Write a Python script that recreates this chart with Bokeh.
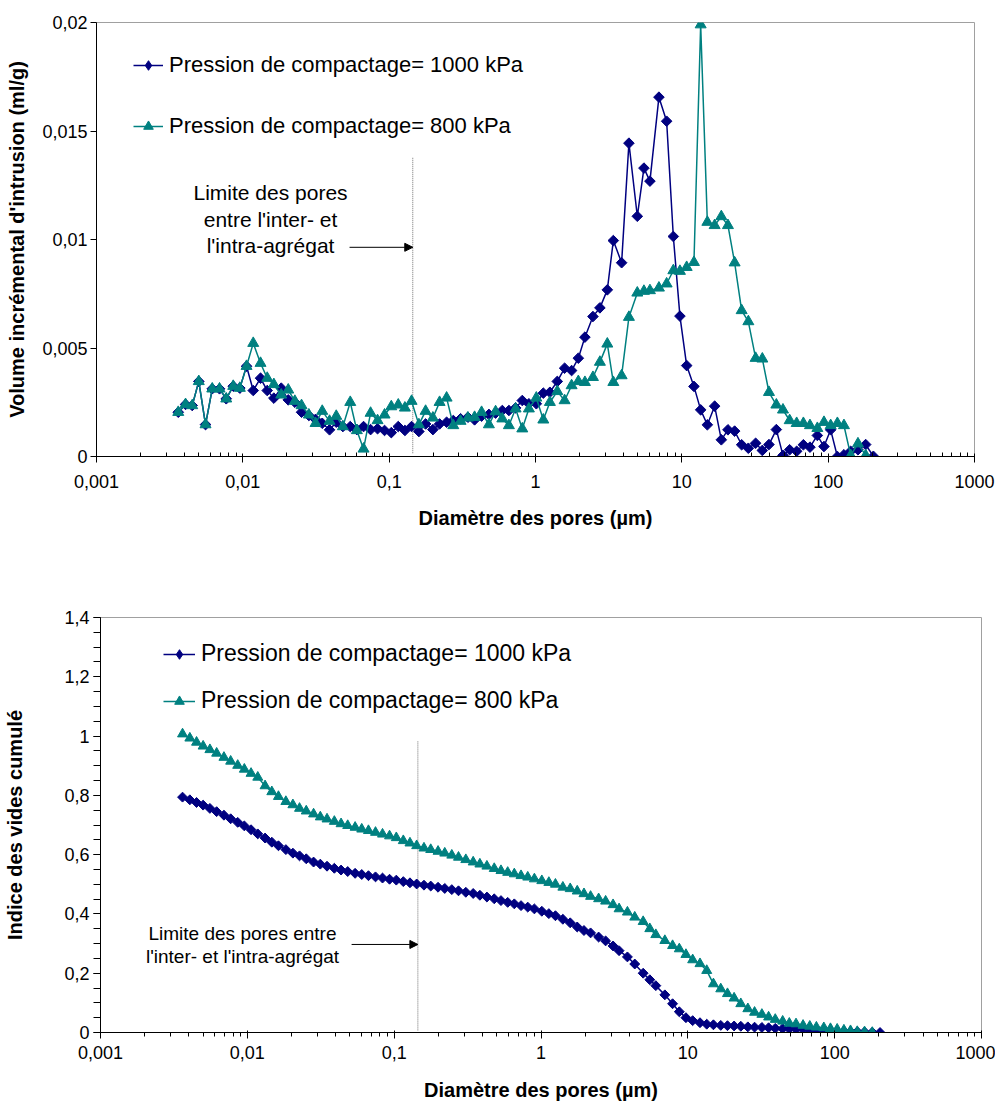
from bokeh.plotting import figure
from bokeh.models import (Range1d, FixedTicker, CustomJSTickFormatter, Legend, LegendItem,
                          Arrow, NormalHead)
from bokeh.core.properties import value
from bokeh.embed import file_html
from bokeh.resources import INLINE

# ---------------- data ----------------
diametre_um = [
    0.00362, 0.00406, 0.00451, 0.00500, 0.00556, 0.00618, 0.00693, 0.00770, 0.00860, 0.00954,
    0.01060, 0.01178, 0.01321, 0.01468, 0.01629, 0.01830, 0.02043, 0.02267, 0.02519, 0.02826,
    0.03140, 0.03489, 0.03914, 0.04349, 0.04826, 0.05421, 0.06014, 0.06683, 0.07464, 0.08331,
    0.09302, 0.1034, 0.1154, 0.1281, 0.1423, 0.1596, 0.1774, 0.1990, 0.2211, 0.2469,
    0.2743, 0.3076, 0.3452, 0.3835, 0.4281, 0.4803, 0.5338, 0.5932, 0.6580, 0.7311,
    0.8123, 0.9014, 1.013, 1.131, 1.254, 1.409, 1.581, 1.765, 1.962, 2.176,
    2.469, 2.755, 3.096, 3.403, 3.877, 4.349, 4.963, 5.508, 6.053, 6.974,
    7.873, 8.748, 9.705, 10.79, 12.10, 13.45, 14.94, 16.76, 18.62, 20.66,
    22.95, 25.63, 28.48, 31.94, 35.49, 39.39, 44.25, 49.11, 54.56, 60.92,
    67.70, 75.08, 84.36, 93.61, 104.0, 115.6, 128.2, 142.5, 159.8, 180.4,
    203.7]

# incremental intrusion volume (ml/g)
increment_1000kPa = [
    0.00204, 0.00240, 0.00235, 0.00346, 0.00147, 0.00312, 0.00312, 0.00266, 0.00324, 0.00315,
    0.00416, 0.00304, 0.00361, 0.00304, 0.00269, 0.00315, 0.00261, 0.00250, 0.00204, 0.00189,
    0.00171, 0.00153, 0.00123, 0.00158, 0.00138, 0.00138, 0.00124, 0.00138, 0.00124, 0.00128,
    0.00120, 0.00110, 0.00138, 0.00120, 0.00138, 0.00115, 0.00150, 0.00124, 0.00150, 0.00158,
    0.00166, 0.00174, 0.00181, 0.00169, 0.00186, 0.00194, 0.00200, 0.00212, 0.00212, 0.00224,
    0.00258, 0.00243, 0.00243, 0.00292, 0.00296, 0.00346, 0.00407, 0.00396, 0.00453, 0.00550,
    0.00645, 0.00685, 0.00768, 0.00995, 0.00893, 0.01444, 0.01107, 0.01329, 0.01269, 0.01656,
    0.01545, 0.01014, 0.00647, 0.00419, 0.00323, 0.00215, 0.00146, 0.00232, 0.00077, 0.00123,
    0.00117, 0.00054, 0.00038, 0.00061, 0.00028, 0.00055, 0.00124, 0.00005, 0.00031, 0.00024,
    0.00054, 0.00043, 0.00097, 0.00046, 0.00123, 0.00000, 0.00008, 0.00024, 0.00031, 0.00055,
    0.00001]

increment_800kPa = [
    0.00204, 0.00240, 0.00235, 0.00346, 0.00147, 0.00312, 0.00312, 0.00266, 0.00324, 0.00315,
    0.00416, 0.00522, 0.00430, 0.00361, 0.00332, 0.00284, 0.00307, 0.00255, 0.00235, 0.00192,
    0.00153, 0.00209, 0.00163, 0.00186, 0.00138, 0.00250, 0.00120, 0.00035, 0.00200, 0.00166,
    0.00192, 0.00230, 0.00238, 0.00224, 0.00255, 0.00147, 0.00209, 0.00178, 0.00250, 0.00270,
    0.00143, 0.00163, 0.00178, 0.00181, 0.00204, 0.00147, 0.00207, 0.00174, 0.00143, 0.00220,
    0.00128, 0.00220, 0.00270, 0.00169, 0.00250, 0.00300, 0.00258, 0.00327, 0.00346, 0.00342,
    0.00365, 0.00435, 0.00519, 0.00342, 0.00373, 0.00642, 0.00754, 0.00762, 0.00765, 0.00777,
    0.00796, 0.00857, 0.00854, 0.00872, 0.00895, 0.01990, 0.01080, 0.01065, 0.01106, 0.01065,
    0.00893, 0.00673, 0.00622, 0.00453, 0.00450, 0.00296, 0.00238, 0.00215, 0.00166, 0.00153,
    0.00153, 0.00143, 0.00130, 0.00158, 0.00143, 0.00153, 0.00143, 0.00005, 0.00059, 0.00005]

# cumulative void ratio
cumul_1000kPa = [
    0.794, 0.785, 0.776, 0.767, 0.756, 0.745, 0.733, 0.721, 0.709, 0.697,
    0.684, 0.670, 0.656, 0.642, 0.630, 0.617, 0.605, 0.596, 0.586, 0.575,
    0.568, 0.561, 0.554, 0.548, 0.543, 0.537, 0.533, 0.529, 0.525, 0.521,
    0.517, 0.514, 0.509, 0.505, 0.501, 0.497, 0.494, 0.490, 0.486, 0.482,
    0.478, 0.473, 0.469, 0.463, 0.457, 0.451, 0.445, 0.439, 0.434, 0.428,
    0.423, 0.417, 0.409, 0.401, 0.394, 0.382, 0.370, 0.356, 0.344, 0.336,
    0.322, 0.309, 0.292, 0.276, 0.255, 0.231, 0.200, 0.178, 0.158, 0.127,
    0.097, 0.070, 0.050, 0.040, 0.033, 0.028, 0.026, 0.024, 0.023, 0.022,
    0.021, 0.019, 0.018, 0.017, 0.016, 0.014, 0.013, 0.012, 0.011, 0.010,
    0.009, 0.008, 0.007, 0.006, 0.005, 0.004, 0.003, 0.003, 0.002, 0.001,
    0.000]

cumul_800kPa = [
    1.007, 0.993, 0.979, 0.966, 0.954, 0.942, 0.928, 0.915, 0.901, 0.888,
    0.874, 0.861, 0.832, 0.812, 0.796, 0.779, 0.768, 0.756, 0.747, 0.737,
    0.727, 0.720, 0.712, 0.704, 0.698, 0.692, 0.686, 0.681, 0.675, 0.669,
    0.663, 0.657, 0.647, 0.639, 0.630, 0.622, 0.617, 0.611, 0.605, 0.598,
    0.591, 0.583, 0.575, 0.568, 0.561, 0.553, 0.546, 0.540, 0.535, 0.529,
    0.524, 0.518, 0.512, 0.506, 0.500, 0.490, 0.485, 0.477, 0.468, 0.459,
    0.451, 0.443, 0.431, 0.417, 0.406, 0.389, 0.374, 0.350, 0.330, 0.310,
    0.293, 0.282, 0.263, 0.245, 0.232, 0.209, 0.164, 0.147, 0.131, 0.116,
    0.097, 0.080, 0.068, 0.061, 0.052, 0.044, 0.038, 0.031, 0.029, 0.024,
    0.021, 0.018, 0.016, 0.013, 0.011, 0.008, 0.006, 0.003, 0.002, 0.000]

series_labels = ["Pression de compactage= 1000 kPa", "Pression de compactage= 800 kPa"]

x_ticks = [0.001, 0.01, 0.1, 1, 10, 100, 1000]
x_tick_labels = ["0,001", "0,01", "0,1", "1", "10", "100", "1000"]
y1_ticks = [0, 0.005, 0.01, 0.015, 0.02]
y1_tick_labels = ["0", "0,005", "0,01", "0,015", "0,02"]
y2_ticks = [0, 0.2, 0.4, 0.6, 0.8, 1.0, 1.2, 1.4]
y2_tick_labels = ["0", "0,2", "0,4", "0,6", "0,8", "1", "1,2", "1,4"]

x_title = "Diamètre des pores (µm)"
y1_title = "Volume incrémental d'intrusion (ml/g)"
y2_title = "Indice des vides cumulé"
note1_lines = ["Limite des pores", "entre l'inter- et", "l'intra-agrégat"]
note2_lines = ["Limite des pores entre", "l'inter- et l'intra-agrégat"]

limite_um = 0.145

# ---------------- styling ----------------
NAVY = "#000080"
TEAL = "#008080"
FONT = "Liberation Sans"

x_minor = [m * 10.0 ** e for e in range(-3, 3) for m in range(2, 10)]

LABEL_JS = """
let best = -1, bd = Infinity;
for (let i = 0; i < tk.length; i++) {
  const d = Math.abs(tk[i] - tick) / Math.max(Math.abs(tk[i]), 1e-12);
  if (d < bd) { bd = d; best = i; }
}
if (Math.abs(tick) < 1e-12) { const z = tk.indexOf(0); return z >= 0 ? lb[z] : ''; }
return (best >= 0 && bd < 1e-6) ? lb[best] : '';
"""


def fmt(tick_values, tick_labels):
    return CustomJSTickFormatter(args=dict(tk=tick_values, lb=tick_labels), code=LABEL_JS)


def base_fig(width, height, y_max, bl, br, bt, bb):
    p = figure(width=width, height=height, x_axis_type="log",
               x_range=Range1d(0.001, 1000), y_range=Range1d(0, y_max),
               output_backend="svg", toolbar_location=None,
               min_border_left=bl, min_border_right=br, min_border_top=bt, min_border_bottom=bb)
    p.grid.visible = False
    p.outline_line_color = "#A0A0A0"
    p.outline_line_width = 1
    p.background_fill_color = "white"
    p.border_fill_color = "white"
    for ax in (p.xaxis[0], p.yaxis[0]):
        ax.axis_line_color = "black"
        ax.axis_line_width = 1
        ax.major_tick_line_color = "black"
        ax.minor_tick_line_color = "black"
        ax.major_label_text_font = FONT
        ax.major_label_text_font_size = "18px"
        ax.major_label_text_color = "black"
        ax.axis_label_text_font = FONT
        ax.axis_label_text_font_style = "bold"
        ax.axis_label_text_font_size = "20px"
        ax.axis_label_text_color = "black"
    p.xaxis.ticker = FixedTicker(ticks=x_ticks, minor_ticks=x_minor)
    p.xaxis.formatter = fmt(x_ticks, x_tick_labels)
    p.xaxis.axis_label = x_title
    return p


def add_series(p, xs, ys, color, marker, size):
    l = p.line(xs, ys, line_color=color, line_width=1.5)
    if marker == "diamond":
        s = p.scatter(xs, ys, marker="square", angle=0.785398, size=size,
                      fill_color=color, line_color=color)
        # legend-only glyph (the legend draws markers without their rotation)
        k = p.scatter([float("nan")], [float("nan")], marker="diamond", size=size,
                      fill_color=color, line_color=color)
    else:
        s = p.scatter(xs, ys, marker="triangle", size=size,
                      fill_color=color, line_color=color)
        k = s
    return l, k


def add_legend(p, items, loc, font_size, glyph_w, spacing):
    lg = Legend(items=[LegendItem(label=t, renderers=list(r)) for t, r in items],
                location=loc, border_line_color=None, background_fill_alpha=0,
                label_text_font=FONT, label_text_font_size=font_size,
                label_text_color="black",
                glyph_width=glyph_w, glyph_height=24, label_height=24,
                label_standoff=6, spacing=spacing, padding=0, margin=0)
    p.add_layout(lg)


# ---------------- top chart ----------------
p1 = base_fig(995, 560, 0.02, 96, 21, 22, 104)
p1.yaxis.ticker = FixedTicker(ticks=y1_ticks, minor_ticks=[])
p1.yaxis.formatter = fmt(y1_ticks, y1_tick_labels)
p1.yaxis.axis_label = y1_title
p1.yaxis.major_tick_out = 6
p1.yaxis.major_tick_in = 0
p1.yaxis.minor_tick_line_color = None
p1.yaxis.major_label_standoff = 3
p1.yaxis.axis_label_standoff = 11
p1.xaxis.major_tick_in = 3
p1.xaxis.major_tick_out = 6
p1.xaxis.minor_tick_in = 4
p1.xaxis.minor_tick_out = 0
p1.xaxis.major_label_standoff = 12
p1.xaxis.axis_label_standoff = 16

p1.segment(x0=[limite_um], y0=[0.00015], x1=[limite_um], y1=[0.0138],
           line_color="#707070", line_width=1, line_dash="1 1")
a1 = add_series(p1, diametre_um, increment_1000kPa, NAVY, "diamond", 7.5)
a2 = add_series(p1, diametre_um[:len(increment_800kPa)], increment_800kPa, TEAL, "triangle", 11)
p1.add_layout(Arrow(end=NormalHead(size=8, fill_color="black", line_color="black"),
                    x_start=0.0536, y_start=0.00964, x_end=limite_um, y_end=0.00964,
                    line_color="black", line_width=1))
p1.text(x=[0.01546] * 3, y=[0.01217, 0.01094, 0.00974], text=note1_lines,
        text_font=value(FONT), text_font_size="21px", text_align="center",
        text_baseline="middle", text_color="black")
add_legend(p1, [(series_labels[0], a1), (series_labels[1], a2)], (37, 317), "22px", 30, 35)

# ---------------- bottom chart ----------------
p2 = base_fig(995, 546, 1.4, 100, 14, 57, 74)
p2.yaxis.ticker = FixedTicker(ticks=y2_ticks, minor_ticks=[round(0.05 * i, 2) for i in range(29)])
p2.yaxis.formatter = fmt(y2_ticks, y2_tick_labels)
p2.yaxis.axis_label = y2_title
p2.yaxis.major_tick_out = 7
p2.yaxis.major_tick_in = 0
p2.yaxis.minor_tick_out = 7
p2.yaxis.minor_tick_in = 0
p2.yaxis.major_label_standoff = 4
p2.yaxis.axis_label_standoff = 35
p2.xaxis.major_tick_in = 2
p2.xaxis.major_tick_out = 6
p2.xaxis.minor_tick_in = 0
p2.xaxis.minor_tick_out = 4
p2.xaxis.major_label_standoff = 7
p2.xaxis.axis_label_standoff = 17

p2.segment(x0=[limite_um], y0=[0.007], x1=[limite_um], y1=[0.985],
           line_color="#707070", line_width=1, line_dash="1 1")
b1 = add_series(p2, diametre_um, cumul_1000kPa, NAVY, "diamond", 7)
b2 = add_series(p2, diametre_um[:len(cumul_800kPa)], cumul_800kPa, TEAL, "triangle", 10)
p2.add_layout(Arrow(end=NormalHead(size=8, fill_color="black", line_color="black"),
                    x_start=0.0513, y_start=0.297, x_end=limite_um, y_end=0.297,
                    line_color="black", line_width=1))
p2.text(x=[0.00927] * 2, y=[0.334, 0.256], text=note2_lines,
        text_font=value(FONT), text_font_size="19px", text_align="center",
        text_baseline="middle", text_color="black")
add_legend(p2, [(series_labels[0], b1), (series_labels[1], b2)], (63, 318), "23px", 32, 20)

# two independent roots stacked on the page (keeps each frame where it belongs)
p = [p1, p2]
open("out.html", "w").write(file_html(p, INLINE))
